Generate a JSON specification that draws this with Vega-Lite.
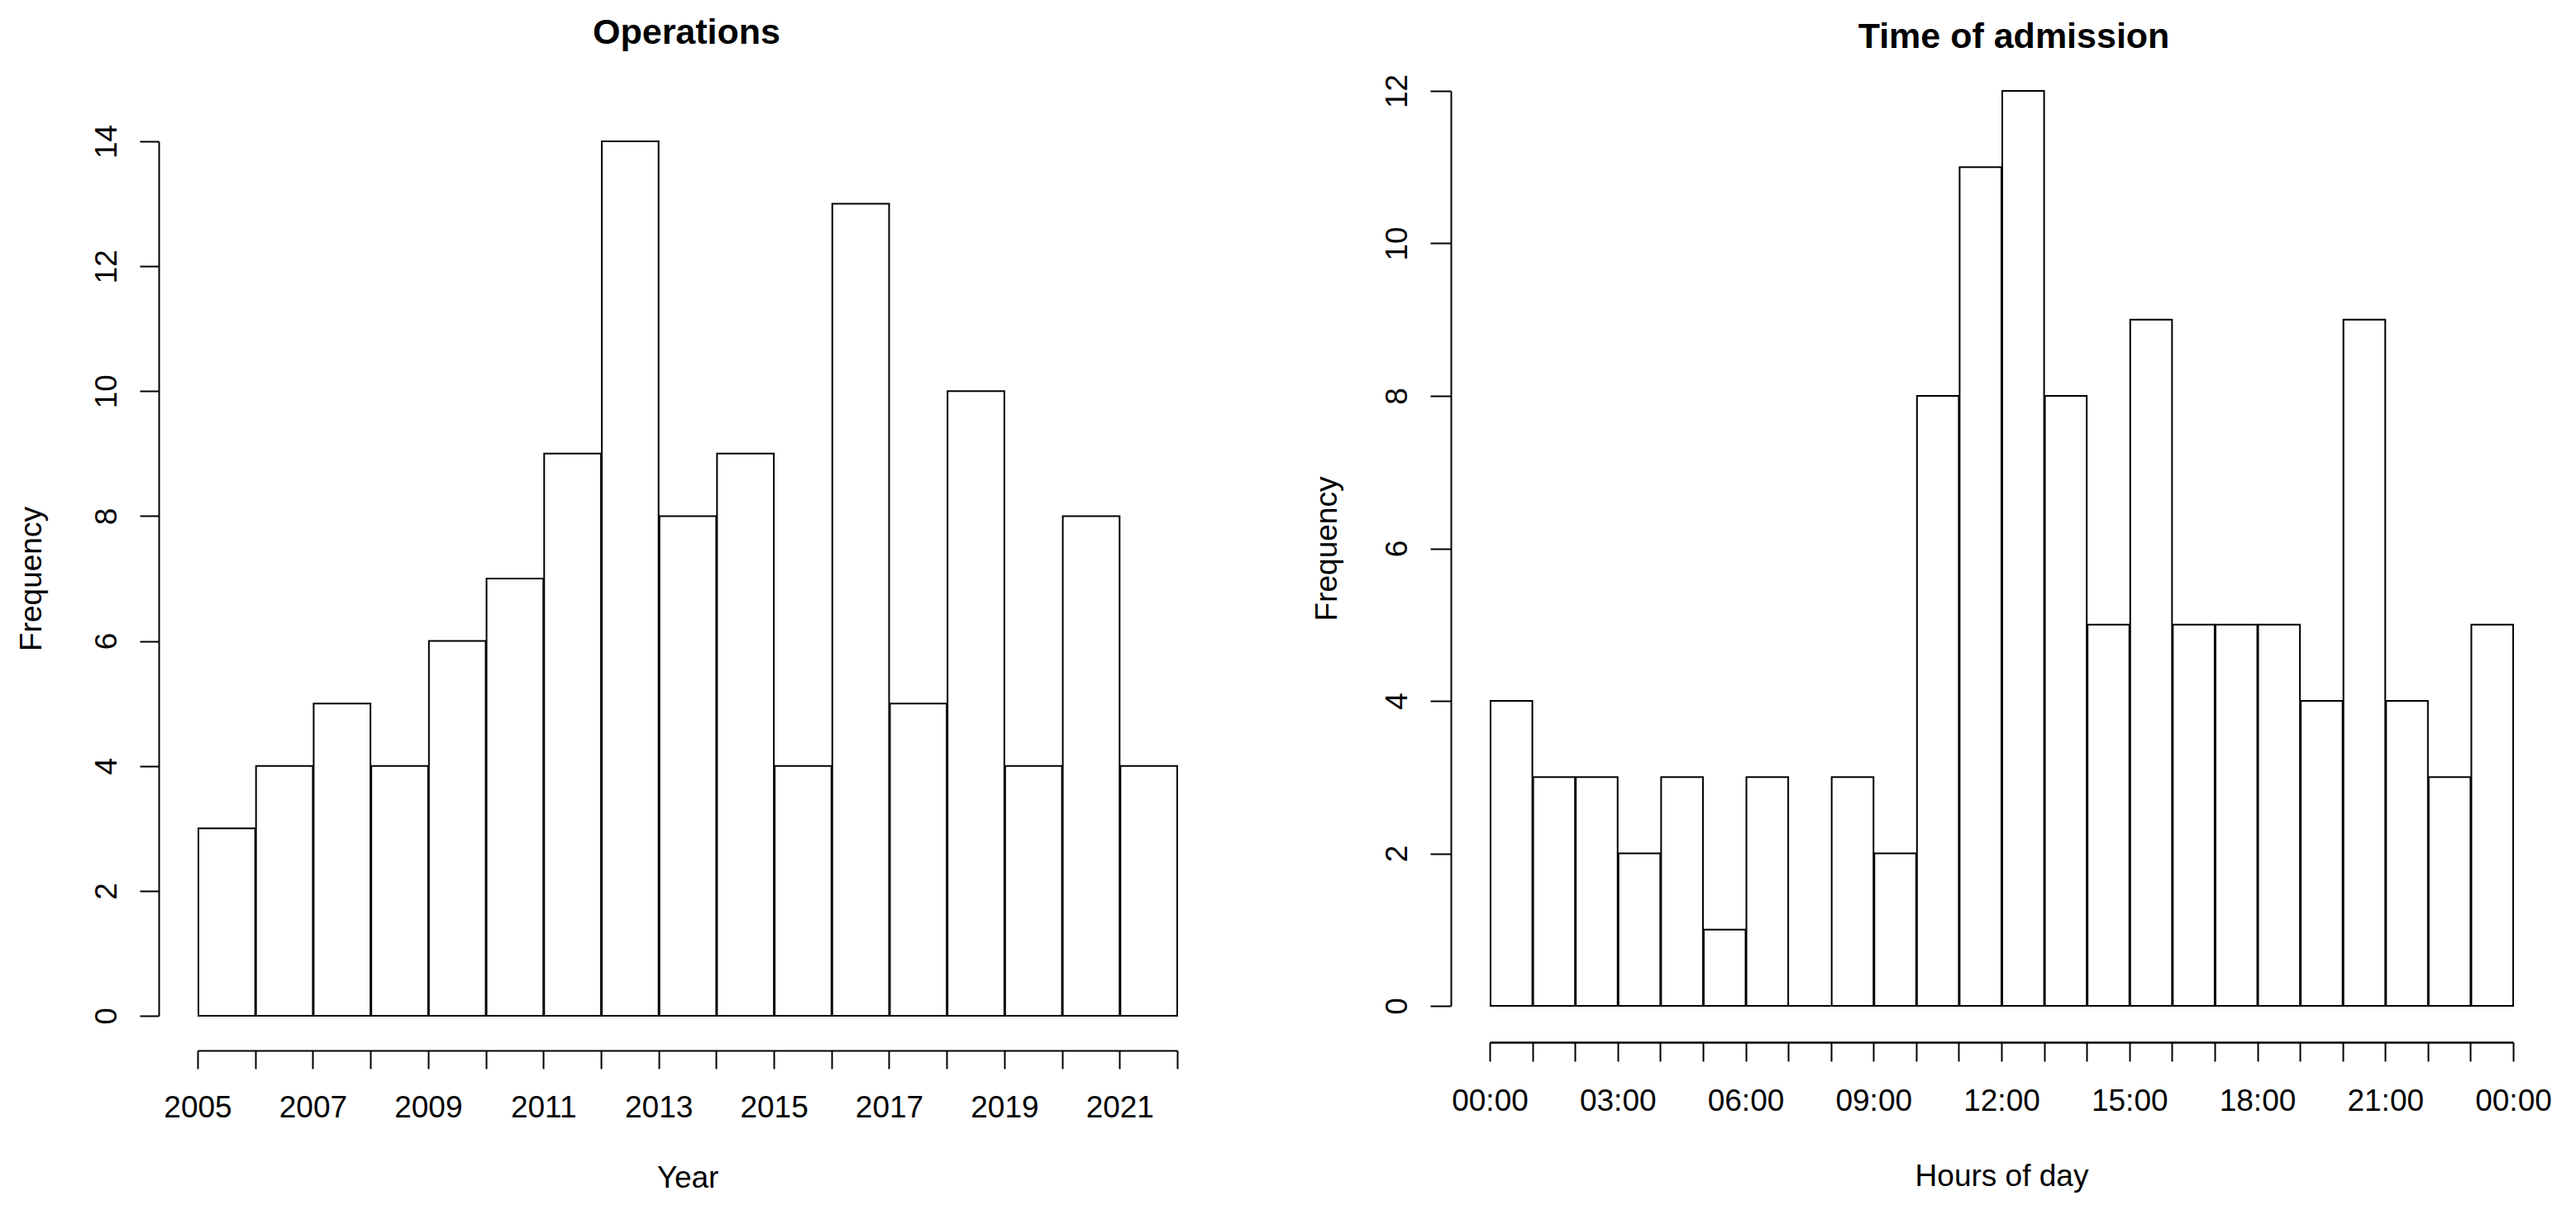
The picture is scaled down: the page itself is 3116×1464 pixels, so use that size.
{
  "$schema": "https://vega.github.io/schema/vega-lite/v6.json",
  "background": "white",
  "padding": {"left": 19, "top": 19, "right": 0, "bottom": 0},
  "spacing": 115,
  "config": {
    "view": {"stroke": null},
    "font": "Liberation Sans",
    "axis": {
      "grid": false,
      "domainColor": "black",
      "tickColor": "black",
      "labelColor": "black",
      "titleColor": "black",
      "labelFont": "Liberation Sans",
      "titleFont": "Liberation Sans",
      "labelFontSize": 37,
      "titleFontSize": 37,
      "titleFontWeight": "normal",
      "labelFlush": false,
      "labelOverlap": false,
      "tickWidth": 2,
      "domainWidth": 2
    }
  },
  "datasets": {
    "operations": [
      {"start": 2005, "end": 2006, "count": 3},
      {"start": 2006, "end": 2007, "count": 4},
      {"start": 2007, "end": 2008, "count": 5},
      {"start": 2008, "end": 2009, "count": 4},
      {"start": 2009, "end": 2010, "count": 6},
      {"start": 2010, "end": 2011, "count": 7},
      {"start": 2011, "end": 2012, "count": 9},
      {"start": 2012, "end": 2013, "count": 14},
      {"start": 2013, "end": 2014, "count": 8},
      {"start": 2014, "end": 2015, "count": 9},
      {"start": 2015, "end": 2016, "count": 4},
      {"start": 2016, "end": 2017, "count": 13},
      {"start": 2017, "end": 2018, "count": 5},
      {"start": 2018, "end": 2019, "count": 10},
      {"start": 2019, "end": 2020, "count": 4},
      {"start": 2020, "end": 2021, "count": 8},
      {"start": 2021, "end": 2022, "count": 4}
    ],
    "admission": [
      {"start": 0, "end": 1, "count": 4},
      {"start": 1, "end": 2, "count": 3},
      {"start": 2, "end": 3, "count": 3},
      {"start": 3, "end": 4, "count": 2},
      {"start": 4, "end": 5, "count": 3},
      {"start": 5, "end": 6, "count": 1},
      {"start": 6, "end": 7, "count": 3},
      {"start": 7, "end": 8, "count": 0},
      {"start": 8, "end": 9, "count": 3},
      {"start": 9, "end": 10, "count": 2},
      {"start": 10, "end": 11, "count": 8},
      {"start": 11, "end": 12, "count": 11},
      {"start": 12, "end": 13, "count": 12},
      {"start": 13, "end": 14, "count": 8},
      {"start": 14, "end": 15, "count": 5},
      {"start": 15, "end": 16, "count": 9},
      {"start": 16, "end": 17, "count": 5},
      {"start": 17, "end": 18, "count": 5},
      {"start": 18, "end": 19, "count": 5},
      {"start": 19, "end": 20, "count": 4},
      {"start": 20, "end": 21, "count": 9},
      {"start": 21, "end": 22, "count": 4},
      {"start": 22, "end": 23, "count": 3},
      {"start": 23, "end": 24, "count": 5}
    ]
  },
  "hconcat": [
    {
      "width": 1279,
      "height": 1205,
      "title": {"text": "Operations", "font": "Liberation Sans", "fontSize": 43, "fontWeight": "bold", "color": "black", "frame": "group", "anchor": "middle", "offset": -30, "dx": -1, "baseline": "alphabetic"},
      "data": {"name": "operations"},
      "mark": {"type": "bar", "fill": "white", "stroke": "black", "strokeWidth": 2},
      "encoding": {
        "x": {
          "field": "start", "type": "quantitative",
          "bin": {"binned": true, "step": 1},
          "scale": {"domain": [2005, 2022], "range": [47, 1232], "nice": false, "zero": false},
          "axis": {
            "title": "Year",
            "values": [2005, 2006, 2007, 2008, 2009, 2010, 2011, 2012, 2013, 2014, 2015, 2016, 2017, 2018, 2019, 2020, 2021, 2022],
            "format": "d",
            "labelExpr": "datum.value % 2 == 1 ? datum.label : ''",
            "tickSize": 22,
            "labelBaseline": "top",
            "labelPadding": 29,
            "titleBaseline": "top",
            "titlePadding": 49
          }
        },
        "x2": {"field": "end"},
        "y": {
          "field": "count", "type": "quantitative",
          "scale": {"domain": [0, 14], "range": [1163, 105], "nice": false},
          "axis": {
            "title": "Frequency",
            "values": [0, 2, 4, 6, 8, 10, 12, 14],
            "tickSize": 23,
            "labelAngle": -90,
            "labelAlign": "center",
            "labelBaseline": "alphabetic",
            "labelPadding": 29,
            "titleAngle": -90,
            "titleBaseline": "alphabetic",
            "titlePadding": 61
          }
        }
      }
    },
    {
      "width": 1334,
      "height": 1195,
      "title": {"text": "Time of admission", "font": "Liberation Sans", "fontSize": 43, "fontWeight": "bold", "color": "black", "frame": "group", "anchor": "middle", "offset": -35, "dx": 14, "baseline": "alphabetic"},
      "data": {"name": "admission"},
      "mark": {"type": "bar", "fill": "white", "stroke": "black", "strokeWidth": 2},
      "encoding": {
        "x": {
          "field": "start", "type": "quantitative",
          "bin": {"binned": true, "step": 1},
          "scale": {"domain": [0, 24], "range": [47, 1285], "nice": false, "zero": false},
          "axis": {
            "title": "Hours of day",
            "values": [0, 1, 2, 3, 4, 5, 6, 7, 8, 9, 10, 11, 12, 13, 14, 15, 16, 17, 18, 19, 20, 21, 22, 23, 24],
            "labelExpr": "datum.value % 3 == 0 ? ((datum.value % 24) < 10 ? '0' : '') + (datum.value % 24) + ':00' : ''",
            "tickSize": 23,
            "domainWidth": 2.5,
            "labelBaseline": "top",
            "labelPadding": 30,
            "titleBaseline": "top",
            "titlePadding": 55
          }
        },
        "x2": {"field": "end"},
        "y": {
          "field": "count", "type": "quantitative",
          "scale": {"domain": [0, 12], "range": [1151, 44], "nice": false},
          "axis": {
            "title": "Frequency",
            "values": [0, 2, 4, 6, 8, 10, 12],
            "tickSize": 25,
            "labelAngle": -90,
            "labelAlign": "center",
            "labelBaseline": "alphabetic",
            "labelPadding": 29,
            "titleAngle": -90,
            "titleBaseline": "alphabetic",
            "titlePadding": 55
          }
        }
      }
    }
  ]
}
